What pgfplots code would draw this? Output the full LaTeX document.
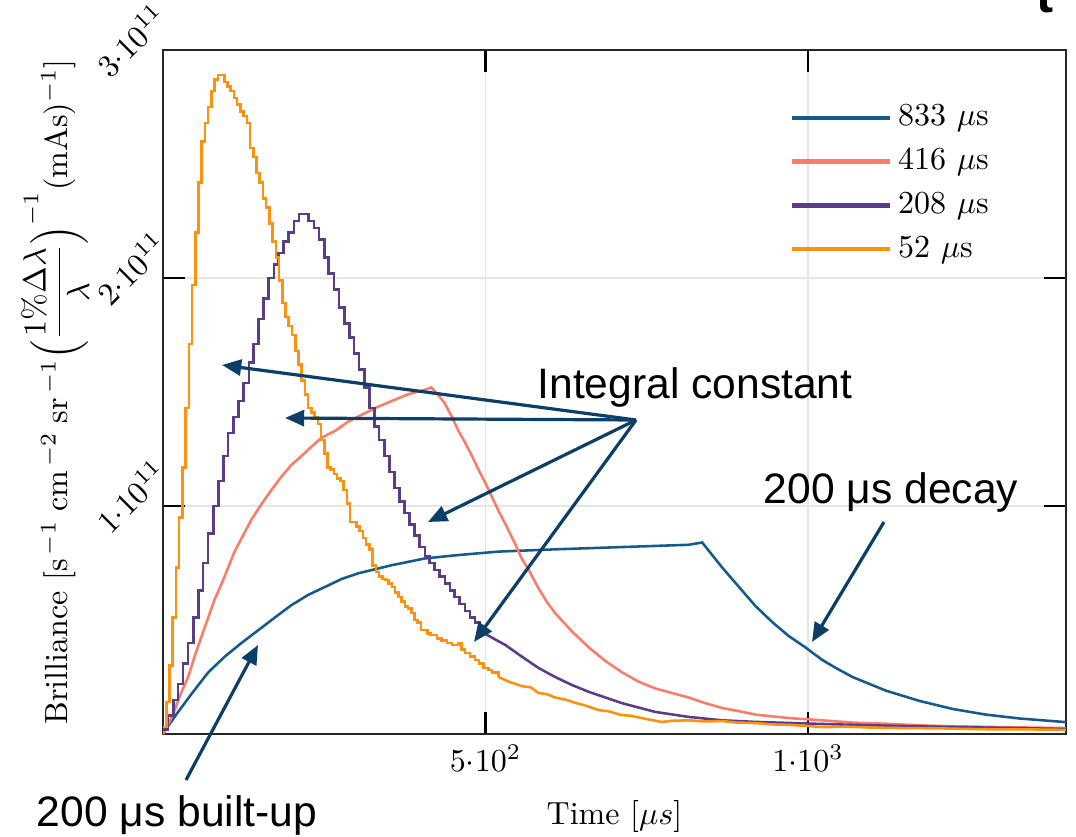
\documentclass[border=0pt]{standalone}
\usepackage{amsmath}
\usepackage{fontspec}
\usepackage{pgfplots}
\pgfplotsset{compat=1.18}
\usetikzlibrary{arrows.meta}
\newfontfamily\arial{Liberation Sans}
\definecolor{cblue}{RGB}{22,90,140}
\definecolor{csalmon}{RGB}{250,125,105}
\definecolor{cpurple}{RGB}{90,60,135}
\definecolor{corange}{RGB}{255,145,15}
\definecolor{cnavy}{RGB}{12,62,104}
\begin{document}
\begin{tikzpicture}[x=0.3123pt,y=0.3123pt]
\useasboundingbox (-163,-102) rectangle (913,734);
\begin{axis}[
  at={(0,0)}, anchor=south west,
  scale only axis, width=282pt, height=213.6pt,
  xmin=0, xmax=1400, ymin=0, ymax=3,
  xtick={500,1000}, xticklabels={$5{\cdot}10^{2}$,$1{\cdot}10^{3}$},
  ytick={1,2,3}, yticklabels={$1{\cdot}10^{11}$,$2{\cdot}10^{11}$,$3{\cdot}10^{11}$},
  yticklabel style={xshift=-10pt, yshift=3pt, rotate=45, anchor=center},
  tick align=inside, major tick length=7pt,
  tick style={black, line width=0.8pt},
  grid=major, major grid style={black!10, line width=0.5pt},
  axis line style={line width=0.8pt, black!85},
  xlabel={Time $[\mu s]$},
  xlabel style={at={(axis description cs:0.5,-0.121)}, anchor=center},
  ylabel={Brilliance $[\mathrm{s}^{\,-1}\;\mathrm{cm}^{\,-2}\;\mathrm{sr}^{\,-1}\Bigl(\dfrac{1\%\Delta\lambda}{\lambda}\Bigr)^{-1}(\mathrm{mAs})^{-1}]$},
  ylabel style={at={(axis description cs:-0.106,0.5)}, anchor=base},
  legend style={draw=none, fill=none, at={(axis description cs:0.683,0.94)}, anchor=north west, row sep=1.5pt},
  legend cell align=left,
  legend image code/.code={\draw[#1, line width=1.3pt] (0pt,0pt) -- (30.5pt,0pt);},
  every axis plot/.append style={line width=0.8pt},
]
% 833 us
\addplot[cblue] coordinates {
(0,0) (8,0.035) (23,0.095) (44,0.175) (70,0.27) (96,0.34) (122,0.40) (148,0.456)
(173,0.51) (199,0.565) (225,0.61) (251,0.645) (277,0.68) (303,0.705) (354,0.74)
(406,0.77) (458,0.785) (520,0.80) (608,0.81) (712,0.82) (815,0.83) (836,0.84)
(867,0.73) (893,0.645) (919,0.56) (945,0.49) (970,0.43) (996,0.38) (1022,0.325)
(1043,0.29) (1069,0.25) (1095,0.22) (1121,0.19) (1173,0.145) (1224,0.11)
(1276,0.085) (1328,0.068) (1400,0.052)};
\addlegendentry{833 $\mu$s}
% 416 us
\addplot[csalmon] coordinates {
(0,0) (8,0.04) (18,0.105) (28,0.18) (39,0.25) (49,0.34) (60,0.43) (70,0.51)
(80,0.59) (91,0.66) (101,0.73) (111,0.80) (122,0.86) (137,0.94) (153,1.01)
(168,1.07) (184,1.13) (199,1.18) (215,1.22) (230,1.26) (246,1.30) (267,1.33)
(287,1.37) (308,1.40) (329,1.43) (354,1.46) (380,1.49) (406,1.51) (416,1.52)
(426,1.49) (437,1.45) (448,1.39) (458,1.33) (468,1.28) (479,1.22) (489,1.16)
(500,1.10) (510,1.04) (520,0.98) (531,0.92) (545,0.84) (556,0.77) (567,0.72)
(582,0.64) (595,0.58) (608,0.53) (634,0.45) (660,0.38) (686,0.32) (712,0.27)
(737,0.23) (763,0.20) (789,0.18) (815,0.16) (841,0.135) (867,0.114) (893,0.10)
(919,0.085) (970,0.07) (1022,0.06) (1069,0.05) (1121,0.045) (1173,0.038)
(1224,0.034) (1300,0.03) (1400,0.026)};
\addlegendentry{416 $\mu$s}
% 208 us
\addplot[cpurple, const plot] coordinates {
(0,0.02) (8,0.08) (16,0.15) (23,0.22) (31,0.31) (39,0.40) (47,0.51) (55,0.63)
(62,0.75) (70,0.88) (78,1.00) (86,1.11) (94,1.22) (101,1.32) (109,1.39)
(117,1.46) (125,1.54) (133,1.63) (140,1.71) (148,1.82) (156,1.91) (164,2.00)
(172,2.06) (179,2.11) (187,2.16) (195,2.20) (203,2.25) (211,2.28) (218,2.28)
(226,2.25) (234,2.22) (242,2.17) (250,2.09) (257,2.02) (265,1.95) (273,1.87)
(281,1.80) (289,1.74) (296,1.67) (304,1.60) (312,1.52) (320,1.43) (328,1.35)
(335,1.29) (343,1.22) (351,1.15) (359,1.08) (367,1.02) (374,0.97) (382,0.92)
(390,0.87) (398,0.82) (406,0.78) (413,0.75) (421,0.72) (429,0.69) (437,0.66)
(445,0.63) (452,0.60) (460,0.57) (468,0.54) (476,0.51) (484,0.49) (491,0.465)
(499,0.44)};
\addlegendentry{208 $\mu$s}
\addplot[cpurple, forget plot] coordinates {
(499,0.44) (531,0.39) (556,0.34) (582,0.29) (608,0.25) (634,0.215) (660,0.185)
(686,0.16) (712,0.135) (763,0.097) (815,0.075) (867,0.06) (919,0.053)
(1022,0.044) (1100,0.038) (1200,0.032) (1300,0.027) (1400,0.022)};
% 52 us
\addplot[corange, const plot] coordinates {
(0,0.03) (5,0.14) (10,0.30) (15,0.51) (20,0.73) (25,0.95) (30,1.17) (35,1.43)
(40,1.71) (45,1.97) (50,2.20) (55,2.42) (60,2.60) (65,2.68) (70,2.75) (75,2.82)
(80,2.87) (85,2.89) (90,2.89) (95,2.86) (100,2.84) (105,2.82) (110,2.79)
(115,2.76) (120,2.73) (125,2.71) (130,2.68) (135,2.57) (140,2.53) (145,2.46)
(150,2.42) (155,2.35) (160,2.31) (165,2.24) (170,2.16) (175,2.09) (180,1.99)
(185,1.89) (190,1.83) (195,1.79) (200,1.75) (205,1.68) (210,1.62) (215,1.55)
(220,1.49) (225,1.43) (230,1.41) (235,1.39) (240,1.36) (245,1.29) (250,1.23)
(255,1.17) (260,1.16) (265,1.14) (270,1.12) (275,1.11) (280,1.07) (285,1.01)
(290,0.93) (295,0.93) (300,0.91) (305,0.89) (310,0.86) (315,0.83) (320,0.81)
(325,0.74) (330,0.71) (335,0.69) (340,0.68) (345,0.675) (350,0.66) (355,0.645)
(360,0.62) (365,0.60) (370,0.58) (375,0.56) (380,0.55) (385,0.53) (390,0.50)
(395,0.49) (400,0.456) (410,0.44) (415,0.434) (425,0.42) (432,0.41) (440,0.40)
(448,0.39) (458,0.40) (463,0.37) (468,0.355) (476,0.34) (484,0.325) (490,0.31)
(497,0.29) (505,0.28) (510,0.27) (520,0.25)};
\addlegendentry{52 $\mu$s}
\addplot[corange, forget plot] coordinates {
(520,0.25) (536,0.23) (556,0.21) (570,0.205) (582,0.18) (595,0.175) (608,0.16)
(625,0.15) (640,0.136) (655,0.125) (675,0.105) (690,0.10) (711,0.083)
(725,0.08) (742,0.07) (760,0.06) (773,0.053) (790,0.058) (815,0.06) (840,0.055)
(867,0.057) (890,0.05) (919,0.048) (945,0.042) (970,0.04) (1000,0.035)
(1022,0.03) (1060,0.032) (1100,0.028) (1150,0.026) (1200,0.025) (1250,0.022)
(1300,0.02) (1350,0.02) (1400,0.018)};
\end{axis}
% annotations
\begin{scope}[cnavy, line width=1pt, -{Triangle[length=6pt,width=5pt]}]
\draw (473,314) -- (59,369);
\draw (473,314) -- (122,316);
\draw (473,314) -- (265,212);
\draw (473,314) -- (311,92);
\draw (721,212) -- (649,92);
\draw (23,-46) -- (95,89);
\end{scope}
\node[font=\arial\fontsize{13.3}{16}\selectfont] at (532,347) {Integral constant};
\node[font=\arial\fontsize{13.3}{16}\selectfont] at (728,242) {200 μs decay};
\node[font=\arial\fontsize{13.3}{16}\selectfont] at (14,-81) {200 μs built-up};
\node[font=\arial\bfseries\fontsize{16}{16}\selectfont, anchor=base west, inner sep=0pt] at (873,721) {t};
\end{tikzpicture}
\end{document}
